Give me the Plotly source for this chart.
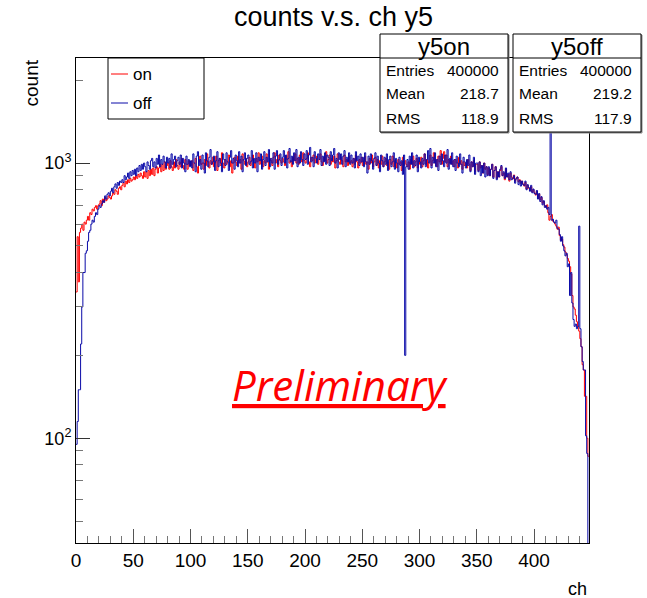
import numpy as np
import plotly.graph_objects as go

# ---------------- data ----------------
ch_min, ch_max = 0, 448

on_counts = [
    340, 540, 370, 560, 580, 600, 570, 610, 600, 620,
    640, 620, 660, 650, 680, 670, 690, 700, 680, 700,
    710, 730, 700, 740, 720, 750, 730, 740, 760, 750,
    740, 760, 780, 770, 800, 790, 770, 810, 820, 800,
    830, 850, 820, 860, 840, 870, 850, 880, 860, 870,
    890, 870, 900, 880, 910, 890, 920, 900, 880, 930,
    890, 930, 880, 940, 900, 950, 910, 960, 900, 950,
    970, 920, 960, 990, 930, 990, 940, 1010, 950, 980,
    1000, 950, 1020, 970, 940, 1010, 960, 1030, 980, 950,
    1010, 970, 1040, 980, 950, 1030, 990, 950, 1020, 980,
    980, 1020, 940, 1000, 1040, 970, 920, 1010, 1060, 990,
    1000, 950, 1030, 980, 1080, 1010, 960, 1020, 990, 1050,
    970, 1000, 1060, 940, 1020, 1040, 980, 1090, 1000, 960,
    1030, 990, 1010, 1070, 970, 1020, 920, 1000, 1050, 1010,
    980, 1060, 1000, 1030, 950, 1080, 1020, 990, 1040, 970,
    1010, 1050, 980, 1020, 1070, 1000, 960, 1040, 1010, 1090,
    990, 1030, 1060, 970, 1020, 1000, 1080, 1010, 950, 1040,
    1020, 980, 1050, 1090, 1000, 1030, 970, 1070, 1020, 1000,
    1040, 1010, 980, 1060, 1030, 1100, 1000, 1020, 970, 1050,
    1020, 1080, 1000, 1040, 990, 1070, 1030, 1010, 1090, 1020,
    1000, 1040, 1090, 1010, 970, 1050, 1020, 1070, 1000, 1030,
    1060, 990, 1030, 1080, 1010, 980, 1050, 1020, 1100, 1000,
    1030, 1070, 990, 1040, 1010, 1060, 960, 1020, 1080, 1010,
    990, 1050, 1020, 970, 1070, 1010, 1030, 980, 1060, 1000,
    1020, 970, 1040, 990, 1070, 1010, 960, 1030, 1000, 1050,
    980, 1020, 1060, 990, 1010, 950, 1040, 1000, 1070, 970,
    1010, 1050, 980, 1030, 960, 1020, 990, 1060, 970, 1010,
    1040, 980, 1010, 950, 1030, 990, 1060, 970, 1020, 1000,
    960, 1030, 990, 1010, 940, 1050, 980, 1020, 990, 970,
    1010, 950, 1030, 990, 1060, 970, 1010, 1040, 960, 1020,
    990, 1050, 970, 1020, 1080, 990, 1030, 960, 1010, 1070,
    980, 1020, 1090, 1000, 1030, 970, 1060, 1010, 1110, 990,
    1040, 1100, 1010, 1070, 970, 1030, 1000, 1060, 990, 1020,
    970, 1030, 1000, 960, 1050, 990, 1020, 950, 1010, 980,
    1000, 960, 1030, 990, 940, 1010, 970, 1020, 930, 990,
    990, 940, 1010, 960, 980, 920, 1000, 950, 970, 910,
    960, 900, 950, 990, 890, 940, 970, 880, 930, 890,
    940, 970, 900, 920, 870, 950, 890, 910, 860, 920,
    890, 875, 905, 860, 880, 890, 855, 870, 845, 860,
    840, 825, 850, 805, 830, 810, 795, 820, 785, 800,
    780, 765, 790, 745, 770, 735, 750, 715, 725, 700,
    690, 705, 660, 620, 640, 650, 615, 610, 600, 590,
    575, 585, 545, 525, 530, 505, 495, 475, 465, 450,
    440, 420, 395, 330, 300, 295, 280, 265, 255, 245,
    230, 215, 185, 177, 142, 142, 100, 86,
]

off_counts = [
    95, 115, 150, 150, 220, 300, 400, 400, 470, 480,
    520, 560, 570, 600, 620, 610, 640, 660, 650, 680,
    700, 690, 710, 730, 720, 760, 740, 770, 780, 760,
    790, 810, 780, 820, 840, 810, 850, 830, 860, 850,
    870, 850, 900, 870, 890, 920, 880, 930, 900, 940,
    910, 950, 900, 960, 930, 980, 940, 990, 950, 1000,
    970, 930, 1010, 980, 950, 1020, 1040, 970, 1010, 960,
    1040, 990, 1070, 970, 1030, 990, 1060, 1010, 960, 1050,
    1000, 1040, 960, 1080, 990, 1030, 1060, 970, 1020, 1050,
    990, 1070, 960, 1040, 1000, 930, 1060, 990, 1030, 970,
    1020, 960, 1080, 1000, 930, 1060, 1100, 980, 1030, 950,
    1070, 1000, 920, 1090, 1020, 970, 1050, 1120, 990, 1010,
    1060, 940, 1020, 1100, 970, 1040, 1000, 930, 1080, 1030,
    980, 1090, 1010, 940, 1050, 1110, 1000, 1040, 950, 1070,
    1020, 970, 1100, 1000, 1060, 930, 1030, 1090, 980, 1040,
    1070, 990, 1010, 1110, 960, 1040, 1000, 1090, 930, 1050,
    1020, 1080, 950, 1030, 1100, 980, 1050, 1010, 1120, 970,
    1040, 1000, 1090, 950, 1060, 1110, 990, 1030, 1080, 980,
    1050, 1110, 1000, 1070, 960, 1040, 1130, 1010, 1060, 990,
    1090, 1020, 1120, 970, 1050, 1000, 1100, 1030, 980, 1080,
    1030, 1110, 990, 1070, 1140, 1010, 1050, 970, 1100, 1040,
    1000, 1080, 1030, 1120, 980, 1060, 1010, 1090, 990, 1070,
    1050, 980, 1100, 1020, 1070, 1130, 1000, 1040, 960, 1090,
    1030, 1080, 990, 1060, 1110, 970, 1050, 1010, 1090, 990,
    1070, 1000, 1040, 960, 1100, 1020, 1060, 980, 1080, 1010,
    1050, 970, 1090, 1010, 920, 1060, 990, 1080, 1020, 950,
    1040, 1090, 980, 1060, 1000, 930, 1070, 1020, 970, 1050,
    990, 1080, 940, 1030, 1060, 970, 1010, 1090, 950, 1040,
    1000, 930, 1050, 980, 1020, 910, 1070, 200, 970, 1030,
    950, 1060, 990, 1090, 960, 1020, 980, 1070, 930, 1050,
    1010, 960, 1040, 990, 1080, 970, 1030, 1110, 1000, 1130,
    960, 1050, 1000, 1090, 970, 1030, 940, 1060, 990, 1080,
    1020, 970, 1070, 1000, 1120, 950, 1040, 990, 1090, 970,
    1030, 940, 1060, 1000, 970, 1080, 990, 920, 1050, 1010,
    960, 1030, 980, 1070, 930, 1010, 970, 1050, 910, 1000,
    1000, 930, 1010, 900, 980, 920, 1000, 890, 970, 900,
    970, 900, 950, 990, 880, 940, 970, 870, 930, 890,
    950, 980, 900, 930, 880, 960, 890, 920, 870, 930,
    870, 880, 900, 845, 875, 890, 835, 865, 825, 860,
    835, 830, 860, 800, 835, 815, 790, 830, 780, 805,
    775, 770, 795, 740, 775, 725, 755, 705, 730, 690,
    700, 680, 690, 650, 1290, 620, 625, 610, 605, 620,
    580, 575, 550, 520, 540, 500, 480, 460, 470, 420,
    430, 330, 400, 310, 270, 255, 260, 250, 255, 590,
    250, 215, 190, 177, 177, 102, 88, 30,
]

y_tick_vals = [100, 1000]
y_tick_text = ["10<sup>2</sup>", "10<sup>3</sup>"]
y_minor_vals = [50, 60, 70, 80, 90, 200, 300, 400, 500, 600, 700, 800, 900, 2000]

stats_names = ["y5on", "y5off"]
stats_entries = ["400000", "400000"]
stats_mean = ["218.7", "219.2"]
stats_rms = ["118.9", "117.9"]

# ---------------- figure ----------------
W, H = 647, 598
L, R, T, B = 76, 58, 58, 55
PW, PH = W - L - R, H - T - B


def px(x):
    return (x - L) / PW


def py(y):
    return (H - B - y) / PH


edges = np.arange(ch_min, ch_max + 1)


def step_xy(counts):
    c = list(counts)
    return list(edges), c + [c[-1]]


FONT = "Liberation Sans, Arial, Helvetica, sans-serif"
RED = "#ff0000"
BLUE = "#0a0aa8"

fig = go.Figure()
xs, ys = step_xy(on_counts)
fig.add_trace(go.Scatter(x=xs, y=ys, mode="lines", line=dict(shape="hv", color=RED, width=1),
                         showlegend=False, hoverinfo="skip"))
xs, ys = step_xy(off_counts)
fig.add_trace(go.Scatter(x=xs, y=ys, mode="lines", line=dict(shape="hv", color=BLUE, width=1),
                         showlegend=False, hoverinfo="skip"))

fig.update_layout(
    width=W, height=H,
    margin=dict(l=L, r=R, t=T, b=B, pad=0),
    paper_bgcolor="white", plot_bgcolor="white",
    font=dict(family=FONT, color="black"),
    showlegend=False,
)

fig.update_xaxes(
    range=[ch_min, ch_max], tick0=0, dtick=50,
    ticks="inside", ticklen=14, tickwidth=1, tickcolor="#555",
    minor=dict(dtick=10, tick0=0, ticks="inside", ticklen=7, tickwidth=1, tickcolor="#777"),
    showgrid=False, zeroline=False,
    showline=True, linecolor="black", linewidth=1, mirror=True,
    tickfont=dict(size=19, family=FONT, color="black"),
)
fig.update_yaxes(
    type="log", range=[1.619, 3.382],
    tickmode="array", tickvals=y_tick_vals, ticktext=y_tick_text,
    ticks="inside", ticklen=14, tickwidth=1, tickcolor="#333",
    minor=dict(tickmode="array", tickvals=y_minor_vals, ticks="inside", ticklen=7,
               tickwidth=1, tickcolor="#777"),
    showgrid=False, zeroline=False,
    showline=True, linecolor="black", linewidth=1, mirror=True,
    tickfont=dict(size=18, family=FONT, color="black"),
)

shapes = []
annotations = []

# title
annotations.append(dict(text="counts v.s. ch y5", x=px(333), y=py(17), xref="paper", yref="paper",
                        showarrow=False, xanchor="center", yanchor="middle",
                        font=dict(size=27, family=FONT, color="black")))
# axis titles
annotations.append(dict(text="count", x=px(31), y=py(58), xref="paper", yref="paper",
                        showarrow=False, textangle=-90, xanchor="center", yanchor="top",
                        font=dict(size=19, family=FONT, color="black")))
annotations.append(dict(text="ch", x=px(589), y=py(589), xref="paper", yref="paper",
                        showarrow=False, xanchor="right", yanchor="middle",
                        font=dict(size=18, family=FONT, color="black")))

# legend box
shapes.append(dict(type="rect", xref="paper", yref="paper", x0=px(108), x1=px(204),
                   y0=py(119), y1=py(58), line=dict(color="black", width=1), fillcolor="white",
                   layer="above"))
for label, col, yy in [("on", RED, 74), ("off", BLUE, 103)]:
    shapes.append(dict(type="line", xref="paper", yref="paper", x0=px(111), x1=px(128),
                       y0=py(yy), y1=py(yy), line=dict(color=col, width=1), layer="above"))
    annotations.append(dict(text=label, x=px(131), y=py(yy), xref="paper", yref="paper",
                            showarrow=False, xanchor="left", yanchor="middle",
                            font=dict(size=17, family=FONT, color="black")))

# stats boxes
for i, (x0, x1) in enumerate([(380, 508), (513, 641)]):
    shapes.append(dict(type="rect", xref="paper", yref="paper", x0=px(x0 + 1), x1=px(x1 + 1),
                       y0=py(133), y1=py(35), line=dict(color="#888", width=1), fillcolor="#888",
                       layer="above"))
    shapes.append(dict(type="rect", xref="paper", yref="paper", x0=px(x0), x1=px(x1),
                       y0=py(132), y1=py(34), line=dict(color="black", width=1), fillcolor="white",
                       layer="above"))
    shapes.append(dict(type="line", xref="paper", yref="paper", x0=px(x0), x1=px(x1),
                       y0=py(58), y1=py(58), line=dict(color="black", width=1), layer="above"))
    annotations.append(dict(text=stats_names[i], x=px((x0 + x1) / 2), y=py(46), xref="paper",
                            yref="paper", showarrow=False, xanchor="center", yanchor="middle",
                            font=dict(size=24, family=FONT, color="black")))
    rows = [("Entries", stats_entries[i], 70), ("Mean", stats_mean[i], 94), ("RMS", stats_rms[i], 118)]
    for name, val, yy in rows:
        annotations.append(dict(text=name, x=px(x0 + 4), y=py(yy), xref="paper", yref="paper",
                                showarrow=False, xanchor="left", yanchor="middle",
                                font=dict(size=15.5, family=FONT, color="black")))
        annotations.append(dict(text=val, x=px(x1 - 7), y=py(yy), xref="paper", yref="paper",
                                showarrow=False, xanchor="right", yanchor="middle",
                                font=dict(size=15.5, family=FONT, color="black")))

# Preliminary stamp
annotations.append(dict(text="<i><u>Preliminary</u></i>", x=px(340), y=py(384), xref="paper",
                        yref="paper", showarrow=False, xanchor="center", yanchor="middle",
                        font=dict(size=42, family="Open Sans, Lato, sans-serif", color=RED)))

fig.update_layout(shapes=shapes, annotations=annotations)
fig.write_html("out.html")
